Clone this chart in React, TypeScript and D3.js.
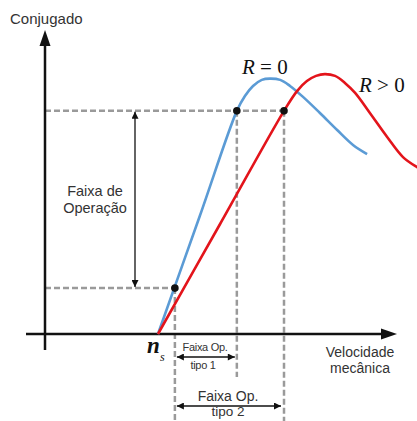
import React from "react";
import * as d3 from "d3";

// Torque–speed characteristics (arbitrary units: speed 0–100, torque 0–100)
const nsSpeed = 32.1;

const curveR0: [number, number][] = [
  [32.1, 0], [44.0, 38.9], [54.5, 73.4], [56.8, 78.3], [59.1, 81.6],
  [61.6, 83.6], [63.9, 84.0], [66.8, 83.6], [69.6, 81.6], [73.3, 78.0],
  [78.1, 72.7], [83.0, 67.1], [87.5, 62.2], [91.5, 59.2],
];

const curveRpos: [number, number][] = [
  [32.1, 0], [49.7, 36.1], [67.9, 73.4], [71.6, 79.9], [74.4, 83.2],
  [77.0, 84.9], [79.5, 85.5], [82.4, 84.9], [85.2, 82.6], [88.1, 79.3],
  [92.3, 72.7], [97.2, 64.8], [101.7, 58.2], [105.7, 54.9], [109.4, 52.6],
];

// Operating band limits
const torqueLow = 15.1;
const torqueHigh = 73.4;
const speedLowR0 = 36.9;
const speedHighR0 = 54.5;
const speedHighRpos = 67.9;

const W = 417;
const H = 421;

const x = d3.scaleLinear().domain([0, 100]).range([45, 397]);
const y = d3.scaleLinear().domain([0, 100]).range([334, 30]);

const line = d3
  .line<[number, number]>()
  .x((d) => x(d[0]))
  .y((d) => y(d[1]))
  .curve(d3.curveCatmullRom.alpha(0.5));

const sans = "'Liberation Sans', Arial, sans-serif";
const serif = "'Liberation Serif', 'Times New Roman', serif";
const dashColor = "#9a9a9a";
const dash = "6,3";

export default function App() {
  const x0 = x(0);
  const y0 = y(0);
  const yLow = y(torqueLow);
  const yHigh = y(torqueHigh);
  const xLow = x(speedLowR0);
  const xHighR0 = x(speedHighR0);
  const xHighRpos = x(speedHighRpos);
  const xArrowV = 135;

  return (
    <svg
      width={W}
      height={H}
      viewBox={`0 0 ${W} ${H}`}
      style={{ position: "absolute", left: 0, top: 0, background: "#fff" }}
    >
      <defs>
        <marker id="ah" viewBox="0 0 10 10" refX="10" refY="5" markerWidth="9" markerHeight="7" orient="auto-start-reverse" markerUnits="userSpaceOnUse">
          <path d="M0,0 L10,5 L0,10 z" fill="#111" />
        </marker>
        <clipPath id="plot">
          <rect x={0} y={0} width={W} height={H} />
        </clipPath>
      </defs>

      {/* dashed guide lines */}
      <g stroke={dashColor} strokeWidth={2.5} strokeDasharray={dash} fill="none">
        <line x1={x0} y1={yHigh} x2={xHighRpos} y2={yHigh} />
        <line x1={x0} y1={yLow} x2={xLow} y2={yLow} />
        <line x1={xLow} y1={yLow} x2={xLow} y2={H} />
        <line x1={xHighR0} y1={yHigh} x2={xHighR0} y2={377} />
        <line x1={xHighRpos} y1={yHigh} x2={xHighRpos} y2={H} />
      </g>

      {/* axes */}
      <line x1={x0} y1={350} x2={x0} y2={44} stroke="#111" strokeWidth={2.5} />
      <path d={`M${x0},30 L${x0 - 5.5},46 L${x0 + 5.5},46 z`} fill="#111" />
      <line x1={26} y1={y0} x2={383} y2={y0} stroke="#111" strokeWidth={2.5} />
      <path d={`M397,${y0} L381,${y0 - 5.5} L381,${y0 + 5.5} z`} fill="#111" />

      {/* curves */}
      <g clipPath="url(#plot)" fill="none" strokeWidth={2.6}>
        <path d={line(curveR0) ?? ""} stroke="#5b9bd5" />
        <path d={line(curveRpos) ?? ""} stroke="#e3141b" />
      </g>

      {/* operating points */}
      <g fill="#111">
        <circle cx={xLow} cy={yLow} r={3.8} />
        <circle cx={xHighR0} cy={yHigh} r={3.8} />
        <circle cx={xHighRpos} cy={yHigh} r={3.8} />
      </g>

      {/* operating range arrows */}
      <g stroke="#111" strokeWidth={1.3}>
        <line x1={xArrowV} y1={yHigh + 1} x2={xArrowV} y2={yLow - 1} markerStart="url(#ah)" markerEnd="url(#ah)" />
        <line x1={xLow + 2} y1={357} x2={xHighR0 - 2} y2={357} markerStart="url(#ah)" markerEnd="url(#ah)" />
        <line x1={xLow + 2} y1={406} x2={xHighRpos - 3} y2={406} markerStart="url(#ah)" markerEnd="url(#ah)" />
      </g>

      {/* text */}
      <g fontFamily={sans} fill="#333">
        <text x={10} y={24} fontSize={15}>Conjugado</text>
        <text x={95} y={196} fontSize={14.5} textAnchor="middle">Faixa de</text>
        <text x={95} y={213} fontSize={14.5} textAnchor="middle">Operação</text>
        <text x={360} y={357} fontSize={14} textAnchor="middle">Velocidade</text>
        <text x={360} y={373} fontSize={14} textAnchor="middle">mecânica</text>
        <text x={205} y={351} fontSize={11} textAnchor="middle" letterSpacing={-0.3}>Faixa Op.</text>
        <text x={203} y={369} fontSize={11} textAnchor="middle" letterSpacing={-0.3}>tipo 1</text>
        <text x={228} y={401} fontSize={14} textAnchor="middle">Faixa Op.</text>
        <text x={228} y={416} fontSize={13.5} textAnchor="middle">tipo 2</text>
      </g>

      <g fontFamily={serif} fill="#111" fontSize={21}>
        <text x={242} y={74}>
          <tspan fontStyle="italic">R</tspan>
          <tspan> = 0</tspan>
        </text>
        <text x={359} y={92}>
          <tspan fontStyle="italic">R</tspan>
          <tspan> &gt; 0</tspan>
        </text>
      </g>

      <text x={x(nsSpeed) - 11} y={353} fontFamily={serif} fontStyle="italic" fontWeight="bold" fontSize={23} fill="#111">
        n
      </text>
      <text x={x(nsSpeed) + 2} y={361} fontFamily={serif} fontStyle="italic" fontSize={12} fill="#111">
        s
      </text>
    </svg>
  );
}
